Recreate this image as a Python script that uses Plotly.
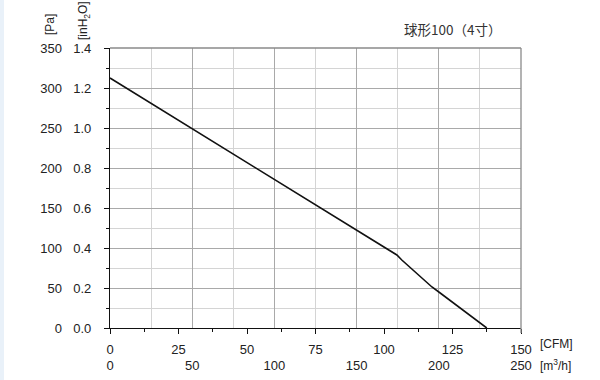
import plotly.graph_objects as go

# Fan curve: airflow [CFM] vs static pressure [inH2O]
flow_cfm = [0, 104.7, 106.5, 115.0, 117.5, 120.5, 137.5]
pressure_inh2o = [1.25, 0.365, 0.34, 0.235, 0.205, 0.175, 0.0]

cfm_ticks = [0, 25, 50, 75, 100, 125, 150]
m3h_ticks = [0, 50, 100, 150, 200, 250]
inh2o_ticks = [0.0, 0.2, 0.4, 0.6, 0.8, 1.0, 1.2, 1.4]
pa_ticks = [0, 50, 100, 150, 200, 250, 300, 350]
title_text = "球形100（4寸）"

W, H = 600, 380
x0, x1 = 110 / W, 521 / W
y0, y1 = (H - 328) / H, (H - 48) / H

tick_font = dict(family="Liberation Sans, Arial, sans-serif", size=13, color="#222")
lab_font = dict(family="Liberation Sans, Arial, sans-serif", size=12, color="#222")
dark_grid = "#a9a9a9"
light_grid = "#d4d4d4"

fig = go.Figure()
fig.add_trace(go.Scatter(x=flow_cfm, y=pressure_inh2o, mode="lines",
                         line=dict(color="#111", width=1.6), showlegend=False,
                         hoverinfo="skip"))
# invisible traces to activate the extra axes
fig.add_trace(go.Scatter(x=[0, 250], y=[None, None], xaxis="x2", yaxis="y", showlegend=False))
fig.add_trace(go.Scatter(x=[0, 250], y=[None, None], xaxis="x3", yaxis="y", showlegend=False))
fig.add_trace(go.Scatter(x=[None, None], y=[0, 350], xaxis="x", yaxis="y2", showlegend=False))

fig.update_layout(
    width=W, height=H,
    margin=dict(l=0, r=0, t=0, b=0, autoexpand=False),
    paper_bgcolor="white", plot_bgcolor="white",
    xaxis=dict(domain=[x0, x1], range=[0, 150], tickvals=cfm_ticks,
               ticktext=[str(v) for v in cfm_ticks],
               showgrid=False, zeroline=False,
               showline=True, linecolor="#111", linewidth=1.3,
               ticks="outside", ticklen=5, tickcolor="#111", tickwidth=1.2,
               minor=dict(dtick=12.5, tick0=0, ticks="outside", ticklen=3,
                          tickcolor="#111", showgrid=False),
               tickfont=tick_font, ticklabelstandoff=4, layer="above traces"),
    xaxis2=dict(overlaying="x", anchor="y", domain=[x0, x1], range=[0, 250],
                dtick=50, tick0=0, showgrid=True, gridcolor=dark_grid, gridwidth=1,
                minor=dict(dtick=25, tick0=0, showgrid=True, gridcolor=light_grid,
                           gridwidth=1, ticks=""),
                showticklabels=False, ticks="", showline=False, zeroline=False,
                layer="below traces"),
    xaxis3=dict(overlaying="x", anchor="free", position=(H - 356) / H,
                domain=[x0, x1], range=[0, 250], tickvals=m3h_ticks,
                ticktext=[str(v) for v in m3h_ticks],
                showgrid=False, zeroline=False, showline=False, ticks="",
                tickfont=tick_font),
    yaxis=dict(domain=[y0, y1], range=[0, 1.4], tickvals=inh2o_ticks,
               ticktext=[f"{v:.1f}" for v in inh2o_ticks],
               showgrid=True, gridcolor=dark_grid, gridwidth=1, zeroline=False,
               showline=True, linecolor="#111", linewidth=1.3,
               ticks="outside", ticklen=5, tickcolor="#111", tickwidth=1.2,
               minor=dict(dtick=0.1, tick0=0, ticks="outside", ticklen=3,
                          tickcolor="#111", showgrid=True, gridcolor=light_grid),
               tickfont=tick_font, ticklabelstandoff=10, layer="above traces"),
    yaxis2=dict(overlaying="y", anchor="free", position=62 / W, side="left",
                domain=[y0, y1], range=[0, 350], tickvals=pa_ticks,
                ticktext=[str(v) for v in pa_ticks],
                showgrid=False, zeroline=False, showline=False, ticks="",
                tickfont=tick_font),
    shapes=[
        dict(type="line", xref="x domain", yref="y domain", x0=0, x1=1, y0=1, y1=1,
             line=dict(color="#8a8a8a", width=1.3)),
        dict(type="line", xref="x domain", yref="paper", x0=1, x1=1,
             y0=(H - 333) / H, y1=y1, line=dict(color="#8a8a8a", width=1.3)),
        dict(type="rect", xref="paper", yref="paper", x0=0, x1=4 / W, y0=0, y1=1,
             fillcolor="#e9f1f9", line=dict(width=0), layer="below"),
    ],
    annotations=[
        dict(text="[Pa]", xref="paper", yref="paper", x=50 / W, y=(H - 25) / H,
             xanchor="center", yanchor="middle",
             textangle=-90, showarrow=False, font=lab_font),
        dict(text="[inH<sub>2</sub>O]", xref="paper", yref="paper", x=84 / W, y=(H - 21) / H,
             xanchor="center", yanchor="middle",
             textangle=-90, showarrow=False, font=lab_font),
        dict(text="[CFM]", xref="paper", yref="paper", x=538 / W, y=(H - 344) / H,
             xanchor="left", yanchor="middle", showarrow=False, font=lab_font),
        dict(text="[m<sup>3</sup>/h]", xref="paper", yref="paper", x=538 / W, y=(H - 365) / H,
             xanchor="left", yanchor="middle", showarrow=False, font=lab_font),
        dict(text=title_text, xref="paper", yref="paper", x=452 / W, y=(H - 29) / H,
             xanchor="center", yanchor="middle", showarrow=False,
             font=dict(family="Noto Sans CJK SC, sans-serif", size=13.5, color="#333")),
    ],
)

fig.write_html("out.html")
